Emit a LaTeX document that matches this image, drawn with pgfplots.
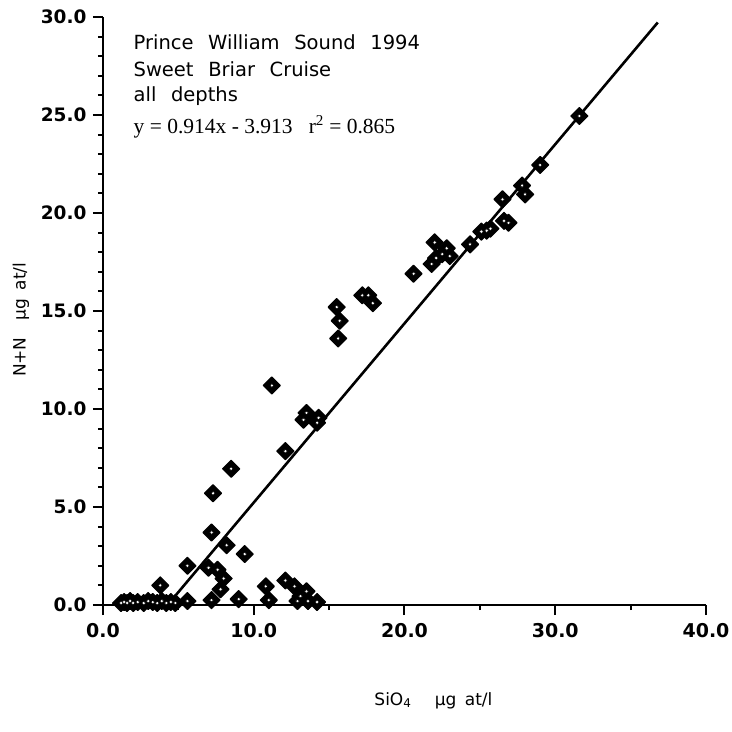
\documentclass[border=0pt]{standalone}
\usepackage{fontspec}
\setmainfont{DejaVu Sans}
\newfontfamily\serifeq{Liberation Serif}
\usepackage{pgfplots}
\pgfplotsset{compat=1.18}
\pgfplotstableread{
x y
1.2 0.10
1.4 0.15
1.6 0.10
1.8 0.20
2.0 0.10
2.3 0.15
2.7 0.10
3.0 0.20
3.3 0.15
3.6 0.10
3.9 0.20
4.2 0.10
4.5 0.15
4.8 0.10
5.6 0.20
3.8 1.00
5.6 2.00
7.0 1.90
7.6 1.80
8.0 1.35
7.8 0.80
7.2 0.25
9.0 0.30
7.2 3.70
8.2 3.05
9.4 2.60
7.3 5.70
8.5 6.95
10.8 0.95
11.0 0.25
12.1 1.25
12.7 0.95
13.5 0.70
12.9 0.20
13.6 0.20
14.2 0.15
13.1 0.45
11.2 11.20
12.1 7.85
13.5 9.80
14.3 9.55
13.3 9.45
14.2 9.30
15.6 13.60
15.7 14.50
15.5 15.20
17.2 15.80
17.6 15.80
17.9 15.40
20.6 16.90
22.0 18.50
22.8 18.20
22.5 17.90
21.8 17.40
22.1 17.70
23.0 17.80
24.35 18.40
25.1 19.05
25.45 19.10
25.7 19.20
26.9 19.50
26.6 19.60
26.5 20.70
27.8 21.40
28.0 20.95
29.0 22.45
31.6 24.95
}\datatable
\begin{document}
\begin{tikzpicture}
\path[use as bounding box] (-103pt,-127pt) rectangle (629pt,605pt);
\begin{axis}[
  at={(0pt,0pt)}, anchor=south west,
  scale only axis, width=603pt, height=588pt,
  xmin=0, xmax=40, ymin=0, ymax=30,
  axis x line*=bottom, axis y line*=left,
  xtick={0,10,20,30,40}, minor xtick={5,15,25,35},
  ytick={0,5,10,15,20,25,30}, minor ytick={1,2,3,4,6,7,8,9,11,12,13,14,16,17,18,19,21,22,23,24,26,27,28,29},
  tick align=outside,
  major tick length=10pt, minor tick length=5pt,
  axis line style={line width=2.6pt},
  every tick/.style={line width=2pt, black},
  /pgf/number format/.cd, fixed, fixed zerofill, precision=1, assume math mode=true,
  /pgfplots/.cd,
  xticklabel style={font=\bfseries\fontsize{19}{22}\selectfont, yshift=-5pt},
  yticklabel style={font=\bfseries\fontsize{18.5}{22}\selectfont, xshift=-3pt},
  xlabel={SiO\raisebox{-0.15ex}{\fontsize{12}{12}\selectfont 4}\hspace{1.4em}µg\hspace{0.5em}at/l},
  xlabel style={at={(axis description cs:0.548,0)}, anchor=center, yshift=-96pt, font=\fontsize{17}{20}\selectfont},
  ylabel={N+N\hspace{1em}µg\hspace{0.5em}at/l},
  ylabel style={at={(axis description cs:-0.136,0.485)}, anchor=center, font=\fontsize{17}{20}\selectfont},
  clip=false,
]
\addplot[only marks, mark=square*, mark size=6.0pt,
  mark options={rotate=45, fill=black, draw=black, line width=1.2pt, line join=round}]
  table[x=x, y=y] {\datatable};
\addplot[only marks, mark=*, mark size=1.8pt,
  mark options={fill=white, draw=none}]
  table[x=x, y=y] {\datatable};
\addplot[black, line width=2.6pt] coordinates {(4.281,0) (36.8,29.72)};
\node[anchor=base west, font=\fontsize{19.5}{24}\selectfont] at (rel axis cs:0.045,0.944) {Prince\hspace{0.75em}William\hspace{0.75em}Sound\hspace{0.75em}1994};
\node[anchor=base west, font=\fontsize{19.5}{24}\selectfont] at (rel axis cs:0.045,0.899) {Sweet\hspace{0.75em}Briar\hspace{0.75em}Cruise};
\node[anchor=base west, font=\fontsize{19.5}{24}\selectfont] at (rel axis cs:0.045,0.856) {all\hspace{0.75em}depths};
\node[anchor=base west, font=\serifeq\fontsize{21.5}{24}\selectfont] at (rel axis cs:0.045,0.802) {y = 0.914x - 3.913\ \ \ r\textsuperscript{2} = 0.865};
\end{axis}
\end{tikzpicture}
\end{document}
